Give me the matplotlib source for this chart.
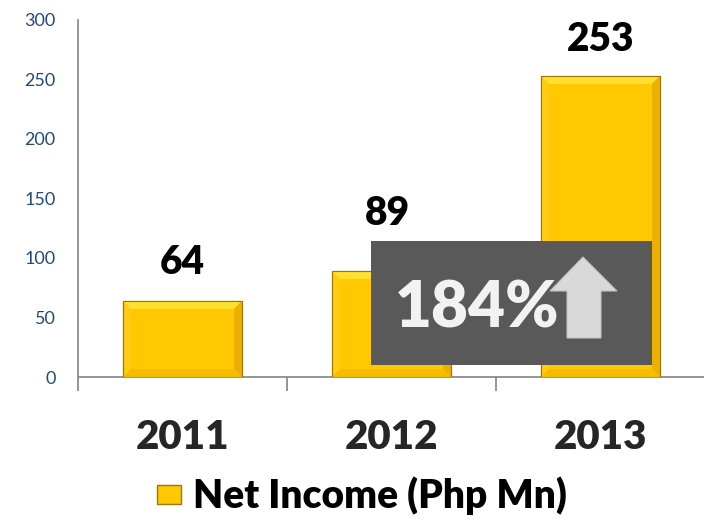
import numpy as np
import matplotlib as mpl
mpl.use('Agg')
import matplotlib.pyplot as plt
from matplotlib.patches import Rectangle, Polygon, Patch
from matplotlib.transforms import IdentityTransform

years = ['2011', '2012', '2013']
net_income = [64, 89, 253]
y_ticks = [0, 50, 100, 150, 200, 250, 300]
growth_label = '184%'
legend_label = 'Net Income (Php Mn)'

plt.rcParams['font.family'] = ['Lato', 'DejaVu Sans']

W, H = 704, 519
fig = plt.figure(figsize=(W / 100, H / 100), dpi=100, facecolor='white')
ax = fig.add_axes([78 / W, 1 - 377 / H, (705 - 78) / W, 357 / H])

gold, edge = '#FFC800', '#9C7800'
x = np.arange(len(years))
bars = ax.bar(x, net_income, width=0.57, color=gold, edgecolor=edge, linewidth=0.8, zorder=2)

ax.set_xlim(-0.5, len(years) - 0.5)
ax.set_ylim(0, 300)
ax.set_yticks(y_ticks)
ax.set_yticklabels([str(v) for v in y_ticks], fontsize=13, color='#24497C')
ax.tick_params(axis='y', length=0, pad=16)
ax.set_xticks(x)
ax.set_xticklabels(years, fontsize=29, fontweight='heavy', color='#262626')
ax.tick_params(axis='x', which='major', length=0, pad=30)
ax.set_xticks(np.arange(-0.5, len(years)), minor=True)
ax.tick_params(axis='x', which='minor', length=10, width=1.3, color='#8C8C8C', direction='out')

for s in ['top', 'right']:
    ax.spines[s].set_visible(False)
for s in ['left', 'bottom']:
    ax.spines[s].set_color('#8C8C8C')
    ax.spines[s].set_linewidth(1.3)

# 2012 label sits higher so the callout box does not cover it
label_offsets = [(0, 19), (-3, 33), (0, 18)]
for xi, v, off in zip(x, net_income, label_offsets):
    ax.annotate(str(v), (xi, v), xytext=off, textcoords='offset points',
                ha='center', va='baseline', fontsize=28, fontweight='heavy', color='black')

# bevel effect on the bars
fig.canvas.draw()
b = 8
for bar in bars:
    e = bar.get_window_extent()
    x0, y0, x1, y1 = e.x0, e.y0, e.x1, e.y1
    faces = [
        ([(x0, y1), (x1, y1), (x1 - b, y1 - b), (x0 + b, y1 - b)], '#FFE030'),
        ([(x1, y1), (x1, y0), (x1 - b, y0 + b), (x1 - b, y1 - b)], '#EDB000'),
        ([(x0, y0), (x1, y0), (x1 - b, y0 + b), (x0 + b, y0 + b)], '#F5BC00'),
        ([(x0, y0), (x0, y1), (x0 + b, y1 - b), (x0 + b, y0 + b)], '#FFCC12'),
    ]
    for pts, c in faces:
        ax.add_patch(Polygon(pts, closed=True, facecolor=c, edgecolor='none',
                             transform=IdentityTransform(), zorder=3))
    ax.add_patch(Rectangle((x0, y0), x1 - x0, y1 - y0, facecolor='none', edgecolor=edge,
                           linewidth=0.8, transform=IdentityTransform(), zorder=4))

# growth callout
fig.add_artist(Rectangle((371 / W, 1 - 365 / H), 281 / W, 124 / H, facecolor='#595959',
                         edgecolor='none', transform=fig.transFigure, zorder=5))
fig.text(395 / W, 1 - 328 / H, growth_label, fontsize=46, fontweight='heavy', color='#F2F2F2',
         ha='left', va='baseline', zorder=6)
arrow = [(583, 257), (617, 291), (601, 291), (601, 338), (567, 338), (567, 291), (550, 291)]
fig.add_artist(Polygon([(px / W, 1 - py / H) for px, py in arrow], closed=True,
                       facecolor='#D9D9D9', edgecolor='#BFBFBF', linewidth=0.8,
                       transform=fig.transFigure, zorder=6))

fig.legend(handles=[Patch(facecolor=gold, edgecolor=edge, label=legend_label)],
           loc='center', bbox_to_anchor=(362 / W, 1 - 496 / H), frameon=False,
           prop={'size': 28, 'weight': 'heavy'}, handlelength=0.62, handleheight=0.4,
           handletextpad=0.3)

fig.savefig('out.png', dpi=100)
